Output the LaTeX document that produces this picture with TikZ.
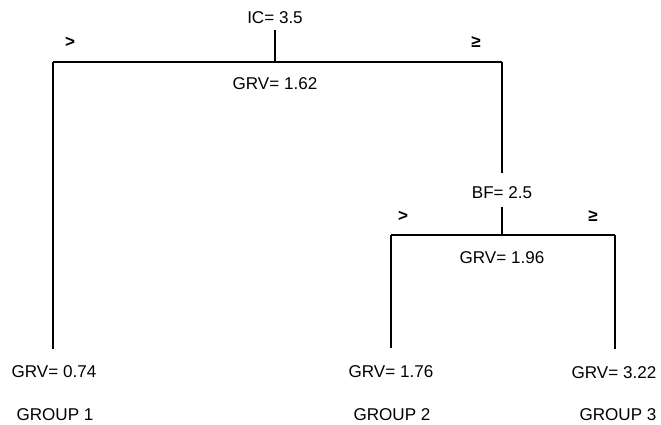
\documentclass[tikz,border=0pt]{standalone}
\usepackage{fontspec}
\setmainfont{Liberation Sans}

\tikzset{every picture/.style={line width=1.5pt}}
\tikzset{lbl/.style={inner sep=0.75pt,font=\fontsize{12.8}{15}\selectfont},
  sgn/.style={inner sep=0.75pt,font=\fontsize{12.8}{15}\selectfont\bfseries}}

\begin{document}
\begin{tikzpicture}[x=0.75pt,y=0.75pt,yscale=-1,xscale=1]
\useasboundingbox (0,0) rectangle (661,425);

\coordinate (icTop) at (275,30);
\coordinate (icJoin) at (275,62);
\coordinate (icL) at (53,62);
\coordinate (icR) at (502,62);
\coordinate (bfIn) at (502,173);
\coordinate (bfTop) at (502,207);
\coordinate (bfJoin) at (502,235);
\coordinate (bfL) at (391,235);
\coordinate (bfR) at (615,235);
\coordinate (leafA) at (53,349);
\coordinate (leafB) at (391,348);
\coordinate (leafC) at (615,349);

\draw    (icTop) -- (icJoin) ;
\draw    (icL) -- (icR) ;
\draw    (icL) -- (leafA) ;
\draw    (icR) -- (bfIn) ;
\draw    (bfTop) -- (bfJoin) ;
\draw    (bfL) -- (bfR) ;
\draw    (bfL) -- (leafB) ;
\draw    (bfR) -- (leafC) ;

\draw (275,18) node (ic) [lbl] {IC= 3.5};
\draw (70,42) node (icGt) [sgn] {>};
\draw (476,42) node (icGe) [sgn] {≥};
\draw (275,84) node (icGrv) [lbl] {GRV= 1.62};

\draw (502,193) node (bf) [lbl] {BF= 2.5};
\draw (403,216) node (bfGt) [sgn] {>};
\draw (593,216) node (bfGe) [sgn] {≥};
\draw (502,258) node (bfGrv) [lbl] {GRV= 1.96};

\draw (54,372) node (grvA) [lbl] {GRV= 0.74};
\draw (391,372) node (grvB) [lbl] {GRV= 1.76};
\draw (614,373) node (grvC) [lbl] {GRV= 3.22};

\draw (55,415) node (grpA) [lbl] {GROUP 1};
\draw (392,415) node (grpB) [lbl] {GROUP 2};
\draw (618,415) node (grpC) [lbl] {GROUP 3};

\end{tikzpicture}
\end{document}
